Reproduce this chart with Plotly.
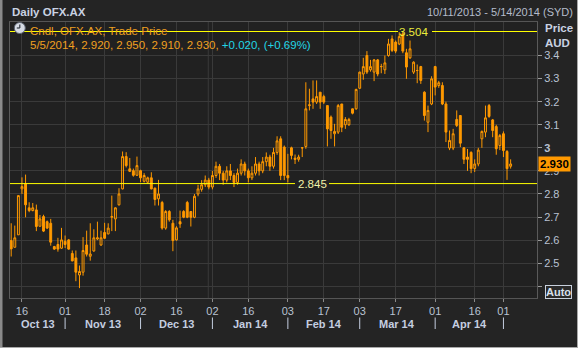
import pandas as pd
import plotly.graph_objects as go

# ---------------- data ----------------
HOLIDAYS = ["2013-12-25", "2013-12-26", "2014-01-01", "2014-01-27",
            "2014-04-18", "2014-04-21", "2014-04-25"]
dates = [d.strftime("%Y-%m-%d") for d in
         pd.bdate_range("2013-10-11", "2014-05-05", freq="C", holidays=HOLIDAYS)]

opens = [2.598, 2.569, 2.623, 2.822, 2.844, 2.740, 2.728, 2.731, 2.660, 2.702,
         2.680, 2.673, 2.572, 2.581, 2.565, 2.595, 2.601, 2.542, 2.523, 2.449,
         2.461, 2.579, 2.530, 2.553, 2.605, 2.579, 2.633, 2.627, 2.699, 2.692,
         2.753, 2.822, 2.962, 2.909, 2.901, 2.881, 2.901, 2.855, 2.851, 2.870,
         2.825, 2.779, 2.763, 2.652, 2.724, 2.673, 2.601, 2.680, 2.724, 2.763,
         2.724, 2.699, 2.800, 2.820, 2.840, 2.860, 2.830, 2.880, 2.920, 2.890,
         2.860, 2.900, 2.880, 2.850, 2.890, 2.930, 2.900, 2.870, 2.890, 2.930,
         2.900, 2.940, 2.960, 2.920, 2.980, 3.039, 3.003, 2.880, 3.000, 2.955,
         2.950, 3.000, 3.006, 3.183, 3.212, 3.198, 3.241, 3.222, 3.183, 3.133,
         3.061, 3.068, 3.190, 3.100, 3.100, 3.169, 3.169, 3.258, 3.320, 3.400,
         3.338, 3.328, 3.381, 3.352, 3.338, 3.400, 3.472, 3.458, 3.450, 3.494,
         3.412, 3.390, 3.328, 3.335, 3.352, 3.241, 3.111, 3.190, 3.352, 3.270,
         3.270, 3.190, 2.999, 2.999, 3.123, 3.140, 3.000, 2.960, 2.980, 2.910,
         2.930, 3.039, 3.068, 3.183, 3.121, 3.092, 3.010, 3.061, 2.984, 2.920]
highs = [2.673, 2.663, 2.793, 2.872, 2.884, 2.764, 2.761, 2.754, 2.709, 2.710,
         2.685, 2.692, 2.575, 2.610, 2.653, 2.620, 2.605, 2.555, 2.555, 2.490,
         2.613, 2.641, 2.673, 2.647, 2.680, 2.641, 2.675, 2.673, 2.793, 2.742,
         2.825, 2.984, 2.981, 2.956, 2.910, 2.962, 2.905, 2.890, 2.875, 2.894,
         2.828, 2.861, 2.770, 2.730, 2.730, 2.688, 2.660, 2.728, 2.730, 2.770,
         2.726, 2.800, 2.840, 2.860, 2.880, 2.870, 2.900, 2.940, 2.930, 2.900,
         2.920, 2.930, 2.890, 2.910, 2.950, 2.940, 2.910, 2.920, 2.960, 2.940,
         2.960, 2.980, 2.970, 3.000, 3.050, 3.050, 3.010, 2.974, 3.005, 2.971,
         2.970, 3.003, 3.284, 3.256, 3.292, 3.292, 3.241, 3.230, 3.183, 3.140,
         3.104, 3.190, 3.190, 3.133, 3.130, 3.170, 3.256, 3.330, 3.390, 3.419,
         3.381, 3.385, 3.385, 3.364, 3.400, 3.472, 3.487, 3.465, 3.501, 3.504,
         3.429, 3.465, 3.375, 3.361, 3.355, 3.245, 3.183, 3.310, 3.355, 3.290,
         3.284, 3.200, 3.075, 3.082, 3.162, 3.140, 3.003, 2.995, 2.985, 2.950,
         3.000, 3.075, 3.183, 3.190, 3.125, 3.100, 3.060, 3.071, 2.990, 2.950]
lows = [2.529, 2.569, 2.623, 2.800, 2.699, 2.721, 2.725, 2.639, 2.660, 2.635,
        2.648, 2.576, 2.558, 2.550, 2.562, 2.566, 2.558, 2.508, 2.422, 2.392,
        2.446, 2.529, 2.511, 2.550, 2.600, 2.575, 2.605, 2.625, 2.639, 2.639,
        2.750, 2.820, 2.915, 2.895, 2.875, 2.878, 2.851, 2.850, 2.845, 2.820,
        2.750, 2.750, 2.645, 2.645, 2.680, 2.552, 2.598, 2.653, 2.695, 2.695,
        2.659, 2.695, 2.790, 2.810, 2.830, 2.820, 2.820, 2.870, 2.860, 2.840,
        2.850, 2.860, 2.830, 2.840, 2.880, 2.880, 2.850, 2.860, 2.880, 2.880,
        2.890, 2.920, 2.900, 2.910, 2.970, 2.860, 2.860, 2.850, 2.950, 2.930,
        2.940, 2.960, 2.996, 3.162, 3.169, 3.190, 3.169, 3.190, 3.006, 3.039,
        3.006, 3.060, 3.068, 3.082, 3.095, 3.145, 3.165, 3.255, 3.295, 3.320,
        3.330, 3.289, 3.310, 3.323, 3.320, 3.395, 3.415, 3.410, 3.445, 3.410,
        3.299, 3.385, 3.320, 3.280, 3.277, 3.118, 3.068, 3.185, 3.227, 3.260,
        3.185, 3.025, 2.990, 2.990, 3.090, 3.003, 2.930, 2.900, 2.890, 2.895,
        2.920, 3.000, 3.046, 3.130, 3.046, 2.970, 2.990, 2.960, 2.861, 2.910]
closes = [2.562, 2.610, 2.793, 2.832, 2.753, 2.728, 2.740, 2.659, 2.692, 2.639,
          2.652, 2.591, 2.561, 2.561, 2.601, 2.581, 2.561, 2.510, 2.461, 2.464,
          2.555, 2.539, 2.540, 2.610, 2.610, 2.610, 2.608, 2.652, 2.702, 2.740,
          2.800, 2.962, 2.923, 2.898, 2.881, 2.923, 2.870, 2.880, 2.870, 2.822,
          2.776, 2.800, 2.652, 2.724, 2.688, 2.598, 2.653, 2.670, 2.699, 2.699,
          2.699, 2.790, 2.822, 2.840, 2.860, 2.830, 2.880, 2.920, 2.890, 2.860,
          2.900, 2.880, 2.850, 2.890, 2.930, 2.900, 2.870, 2.890, 2.930, 2.900,
          2.940, 2.960, 2.920, 2.980, 3.030, 2.880, 2.880, 2.870, 2.967, 2.950,
          2.960, 3.000, 3.169, 3.186, 3.198, 3.222, 3.198, 3.198, 3.082, 3.075,
          3.071, 3.183, 3.089, 3.123, 3.123, 3.150, 3.253, 3.328, 3.352, 3.328,
          3.352, 3.381, 3.320, 3.352, 3.368, 3.450, 3.422, 3.419, 3.482, 3.419,
          3.350, 3.429, 3.371, 3.335, 3.292, 3.140, 3.162, 3.299, 3.263, 3.282,
          3.190, 3.068, 3.032, 3.061, 3.097, 3.020, 2.950, 2.950, 2.910, 2.930,
          2.990, 3.071, 3.130, 3.136, 3.075, 2.996, 3.053, 2.988, 2.910, 2.930]

tick_dates = ["2013-10-16", "2013-11-01", "2013-11-18", "2013-12-02", "2013-12-16",
              "2014-01-02", "2014-01-16", "2014-02-03", "2014-02-17", "2014-03-03",
              "2014-03-17", "2014-04-01", "2014-04-16", "2014-05-01"]
tick_text = ["16", "01", "18", "02", "16", "02", "16", "03", "17", "03", "17",
             "01", "16", "01"]
month_starts = ["2013-11-01", "2013-12-02", "2014-01-02", "2014-02-03",
                "2014-03-03", "2014-04-01", "2014-05-01"]
month_labels = ["Oct 13", "Nov 13", "Dec 13", "Jan 14", "Feb 14", "Mar 14", "Apr 14"]

y_ticks = [2.4, 2.5, 2.6, 2.7, 2.8, 2.9, 3.0, 3.1, 3.2, 3.3, 3.4]
y_tick_text = ["", "2.5", "2.6", "2.7", "2.8", "2.9", "<b>3</b>", "3.1", "3.2", "3.3", "3.4"]

high_level = 3.504
low_level = 2.845
last_price = 2.930
title = "Daily OFX.AX"
date_range = "10/11/2013 - 5/14/2014 (SYD)"
legend_1 = "Cndl, OFX.AX, Trade Price"
legend_2 = "5/5/2014, 2.920, 2.950, 2.910, 2.930, "
legend_chg = "+0.020, (+0.69%)"

# ---------------- style / layout ----------------
W, H = 581, 351
ML, MR, MT, MB = 10, 44, 22, 53
PW, PH = W - ML - MR, H - MT - MB
X_RANGE = [-0.334, 146.34]
Y_RANGE = [2.3492, 3.5452]
ORANGE = "#ff9900"
FONT = "Liberation Sans, Arial, sans-serif"
LBL = "#b9c2d2"


def px(X):
    return (X - ML) / PW


def py(Y):
    return (H - MB - Y) / PH


def xi(X):  # pixel -> category index
    return X_RANGE[0] + (X - ML) / PW * (X_RANGE[1] - X_RANGE[0])


fig = go.Figure()
fig.add_trace(go.Candlestick(
    x=dates, open=opens, high=highs, low=lows, close=closes,
    increasing=dict(line=dict(color=ORANGE, width=1), fillcolor="rgba(0,0,0,0)"),
    decreasing=dict(line=dict(color=ORANGE, width=1), fillcolor=ORANGE),
    whiskerwidth=0, hoverinfo="skip", showlegend=False))

shapes = []
ann = []

# extra vertical line at the year change
shapes.append(dict(type="line", xref="x", yref="paper", x0=54.85, x1=54.85, y0=0, y1=1,
                   line=dict(color="#3a3a3a", width=1), layer="below"))

# high / low reference lines
YEL = "#ffff00"
shapes += [
    dict(type="line", xref="x", yref="y", x0=X_RANGE[0], x1=xi(398), y0=high_level, y1=high_level,
         line=dict(color=YEL, width=1)),
    dict(type="line", xref="x", yref="y", x0=xi(432), x1=X_RANGE[1], y0=high_level, y1=high_level,
         line=dict(color=YEL, width=1)),
    dict(type="line", xref="x", yref="y", x0=X_RANGE[0], x1=xi(295), y0=low_level, y1=low_level,
         line=dict(color=YEL, width=1)),
    dict(type="line", xref="x", yref="y", x0=xi(329), x1=X_RANGE[1], y0=low_level, y1=low_level,
         line=dict(color=YEL, width=1)),
]
ann.append(dict(x=xi(413), y=high_level, xref="x", yref="y", text=f"{high_level:.3f}",
                showarrow=False, font=dict(family=FONT, size=11.5, color="#ecec3c"),
                xanchor="center", yanchor="middle"))
ann.append(dict(x=xi(312), y=low_level, xref="x", yref="y", text=f"{low_level:.3f}",
                showarrow=False, font=dict(family=FONT, size=11.5, color="#f2f2a8"),
                xanchor="center", yanchor="middle"))

# header texts
ann.append(dict(x=px(10), y=py(12), xref="paper", yref="paper", text=f"<b>{title}</b>",
                showarrow=False, xanchor="left", yanchor="middle",
                font=dict(family=FONT, size=11.5, color="#c9d2e2")))
ann.append(dict(x=px(575), y=py(12.5), xref="paper", yref="paper", text=date_range,
                showarrow=False, xanchor="right", yanchor="middle",
                font=dict(family=FONT, size=11, color="#b4bccb")))
ann.append(dict(x=px(27.5), y=py(30.5), xref="paper", yref="paper", text=legend_1,
                showarrow=False, xanchor="left", yanchor="middle",
                font=dict(family=FONT, size=11.5, color="#f0a020")))
ann.append(dict(x=px(27.5), y=py(45), xref="paper", yref="paper",
                text=legend_2 + f"<span style='color:#22d6e6'>{legend_chg}</span>",
                showarrow=False, xanchor="left", yanchor="middle",
                font=dict(family=FONT, size=11.5, color="#f0a020")))

# clock icon
shapes.append(dict(type="circle", xref="paper", yref="paper", x0=px(14.3), x1=px(25.3),
                   y0=py(33.5), y1=py(22.5), fillcolor="#d6dbe4",
                   line=dict(color="#5c6472", width=1)))
shapes.append(dict(type="line", xref="paper", yref="paper", x0=px(19.8), x1=px(19.8),
                   y0=py(28), y1=py(24.5), line=dict(color="#303640", width=1.2)))
shapes.append(dict(type="line", xref="paper", yref="paper", x0=px(19.8), x1=px(16.8),
                   y0=py(28), y1=py(28), line=dict(color="#303640", width=1.2)))

# y axis title
ann.append(dict(x=px(542.5), y=py(28), xref="paper", yref="paper", text="<b>Price</b>",
                showarrow=False, xanchor="left", yanchor="middle",
                font=dict(family=FONT, size=11.5, color="#c9d2e2")))
ann.append(dict(x=px(542.5), y=py(42.5), xref="paper", yref="paper", text="<b>AUD</b>",
                showarrow=False, xanchor="left", yanchor="middle",
                font=dict(family=FONT, size=11.5, color="#c9d2e2")))

# last price tag
ann.append(dict(x=px(538), y=last_price, xref="paper", yref="y", text=f"<b>{last_price:.3f}</b>",
                showarrow=False, xanchor="left", yanchor="middle", bgcolor=ORANGE,
                borderpad=1, font=dict(family=FONT, size=11.5, color="#000000")))

# Auto button
ann.append(dict(x=px(558.5), y=py(292), xref="paper", yref="paper", text="<b>Auto</b>",
                showarrow=False, xanchor="center", yanchor="middle", bgcolor="#2a2a2a",
                bordercolor="#c8d0dc", borderwidth=1, borderpad=0,
                font=dict(family=FONT, size=11, color="#d8e0ec")))

# month labels and separators
pos = {d: i for i, d in enumerate(dates)}
bounds = [X_RANGE[0]] + [pos[d] for d in month_starts]
for i, lab in enumerate(month_labels):
    c = (bounds[i] + bounds[i + 1]) / 2
    ann.append(dict(x=c, y=py(324), xref="x", yref="paper", text=f"<b>{lab}</b>",
                    showarrow=False, xanchor="center", yanchor="middle",
                    font=dict(family=FONT, size=11, color="#c4cee0")))
for d in month_starts:
    shapes.append(dict(type="line", xref="x", yref="paper", x0=pos[d], x1=pos[d],
                       y0=py(317.5), y1=py(329), line=dict(color="#c4cee0", width=1)))

# outer frame decorations
shapes += [
    dict(type="rect", xref="paper", yref="paper", x0=px(0), x1=px(2.5), y0=py(351), y1=py(0),
         fillcolor="#8a8a8a", line=dict(width=0)),
    dict(type="rect", xref="paper", yref="paper", x0=px(577), x1=px(578), y0=py(348), y1=py(0),
         fillcolor="#a8a8a8", line=dict(width=0)),
    dict(type="rect", xref="paper", yref="paper", x0=px(0), x1=px(578), y0=py(348), y1=py(347),
         fillcolor="#a8a8a8", line=dict(width=0)),
    dict(type="rect", xref="paper", yref="paper", x0=px(578), x1=px(581), y0=py(351), y1=py(0),
         fillcolor="#ffffff", line=dict(width=0)),
    dict(type="rect", xref="paper", yref="paper", x0=px(0), x1=px(581), y0=py(351), y1=py(348),
         fillcolor="#ffffff", line=dict(width=0)),
]

fig.update_layout(
    width=W, height=H, margin=dict(l=ML, r=MR, t=MT, b=MB, pad=0),
    paper_bgcolor="#242424", plot_bgcolor="#212121",
    font=dict(family=FONT, size=11, color=LBL),
    showlegend=False, boxgap=0.25, hovermode=False,
    shapes=shapes, annotations=ann,
    xaxis=dict(type="category", range=X_RANGE, rangeslider=dict(visible=False),
               tickmode="array", tickvals=tick_dates, ticktext=tick_text,
               ticks="outside", ticklen=3, tickcolor="#8a8a8a",
               tickfont=dict(family=FONT, size=11, color=LBL),
               showgrid=True, gridcolor="#3a3a3a", gridwidth=1,
               showline=True, linecolor="#555555", mirror=True, zeroline=False),
    yaxis=dict(side="right", range=Y_RANGE, tickmode="array", tickvals=y_ticks,
               ticktext=y_tick_text, ticks="outside", ticklen=4, tickcolor="#9a9a9a",
               tickfont=dict(family=FONT, size=11, color=LBL),
               showgrid=True, gridcolor="#3a3a3a", gridwidth=1,
               showline=True, linecolor="#5a5a5a", mirror=True, zeroline=False),
)

fig.write_html("out.html", config=dict(displayModeBar=False, staticPlot=True))
